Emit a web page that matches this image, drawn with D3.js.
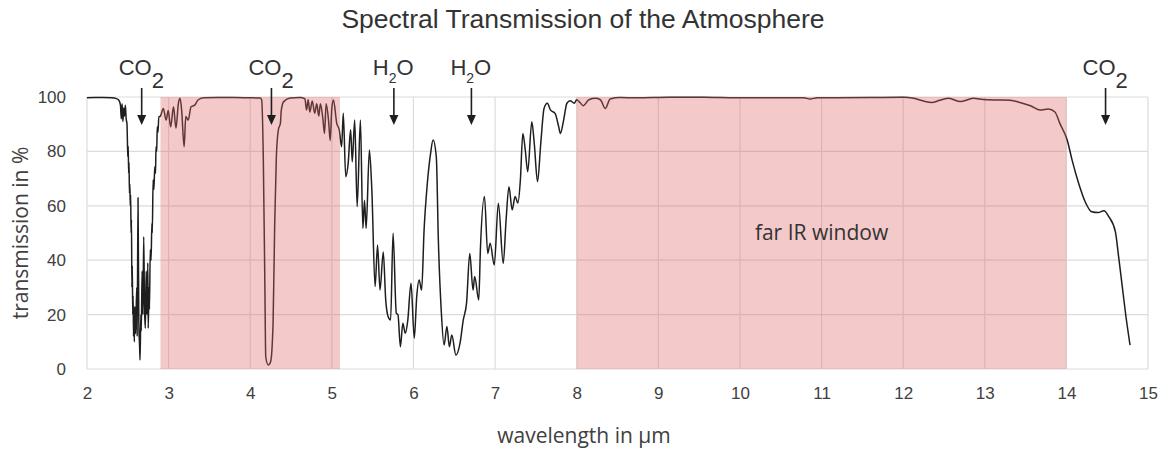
<!DOCTYPE html>
<html>
<head>
<meta charset="utf-8">
<script src="https://cdn.jsdelivr.net/npm/d3@7"></script>
<style>
  body { margin: 0; background: #fff; }
  svg text { fill: #404040; }
</style>
</head>
<body>
<div id="chart"></div>
<script>
// wavelength in µm and transmission in %
const wavelength = [
  2.00, 2.10, 2.20, 2.30, 2.36, 2.39, 2.41, 2.42, 2.43, 2.44, 2.45, 2.46, 2.47, 2.48,
  2.49, 2.495, 2.50, 2.505, 2.51, 2.515, 2.52, 2.525, 2.53, 2.535, 2.54, 2.545, 2.55, 2.555,
  2.56, 2.565, 2.57, 2.575, 2.58, 2.585, 2.595, 2.60, 2.61, 2.615, 2.625, 2.635, 2.645, 2.65,
  2.66, 2.665, 2.675, 2.685, 2.695, 2.705, 2.715, 2.725, 2.735, 2.745, 2.75, 2.76, 2.765, 2.775,
  2.785, 2.795, 2.80, 2.81, 2.82, 2.83, 2.84, 2.845, 2.855, 2.86, 2.87, 2.88,
  2.895, 2.935, 2.97, 2.995, 3.025, 3.06, 3.09, 3.12, 3.14, 3.16, 3.19, 3.21, 3.24, 3.275, 3.32,
  3.36, 3.43, 3.60, 3.80, 4.00, 4.12, 4.14, 4.16, 4.18, 4.19, 4.22, 4.25, 4.28, 4.30, 4.32,
  4.345, 4.37, 4.38, 4.41, 4.49, 4.61, 4.67, 4.69, 4.71, 4.73, 4.76, 4.79, 4.815, 4.84, 4.86,
  4.89, 4.91, 4.93, 4.96, 4.98, 5.00, 5.02, 5.06, 5.09, 5.12, 5.14, 5.17, 5.20, 5.23, 5.25,
  5.28, 5.31, 5.35, 5.38, 5.40, 5.42, 5.46, 5.49, 5.53, 5.56, 5.59, 5.63, 5.66, 5.69, 5.72,
  5.75, 5.79, 5.81, 5.84, 5.87, 5.90, 5.93, 5.97, 6.01, 6.04, 6.07, 6.10, 6.13, 6.17, 6.21,
  6.24, 6.28, 6.305, 6.34, 6.375, 6.41, 6.44, 6.47, 6.52, 6.57, 6.61, 6.65, 6.69, 6.73, 6.75,
  6.80, 6.82, 6.87, 6.91, 6.94, 6.99, 7.04, 7.10, 7.135, 7.17, 7.21, 7.245, 7.28, 7.31, 7.34,
  7.37, 7.40, 7.45, 7.48, 7.52, 7.56, 7.60, 7.64, 7.68, 7.735, 7.78, 7.80, 7.84, 7.88, 7.92,
  7.97, 8.00, 8.04, 8.08, 8.15, 8.23, 8.29, 8.35, 8.41, 8.53, 8.74, 9.14, 9.55, 9.96, 10.37,
  10.78, 10.86, 10.95, 11.6, 12.0, 12.13, 12.25, 12.35, 12.45, 12.56, 12.70, 12.86, 12.98, 13.15,
  13.31, 13.43, 13.56, 13.68, 13.78, 13.86, 13.92, 14.01, 14.07, 14.15, 14.23, 14.31, 14.39,
  14.46, 14.52, 14.60, 14.64, 14.68, 14.73, 14.78
];
const transmission = [
  99.7, 99.8, 99.8, 99.7, 99.4, 98.8, 97.0, 92.0, 97.5, 91.0, 96.0, 93.0, 97.0, 92.0,
  90.0, 84.0, 78.0, 82.0, 72.0, 76.0, 64.6, 68.0, 60.0, 64.0, 50.0, 55.0, 30.0, 38.0,
  20.0, 27.0, 12.0, 22.0, 10.0, 23.0, 13.0, 18.0, 30.0, 12.0, 63.0, 17.0, 8.0, 3.3,
  20.0, 14.0, 36.0, 20.0, 48.6, 22.0, 15.0, 36.0, 20.0, 39.0, 15.0, 30.0, 22.0, 43.8,
  40.0, 53.6, 50.0, 69.5, 66.0, 74.4, 72.0, 81.7, 80.0, 89.0, 87.0, 92.8,
  92.8, 95.8, 91.5, 95.0, 89.0, 96.4, 88.5, 97.7, 99.5, 95.0, 81.7, 92.8, 91.5, 96.4, 97.0,
  98.9, 99.7, 99.8, 99.8, 99.7, 99.6, 99.0, 78.0, 29.0, 4.5, 1.5, 2.7, 17.0, 53.6, 78.0,
  88.0, 90.4, 95.0, 98.3, 99.6, 99.8, 99.3, 95.2, 99.0, 94.5, 98.5, 94.0, 97.5, 93.0, 97.5,
  92.0, 86.6, 97.5, 91.2, 84.0, 96.0, 98.9, 90.3, 88.0, 81.7, 94.0, 70.7, 75.6, 88.0, 76.2,
  91.5, 59.7, 91.5, 51.7, 62.0, 51.7, 80.5, 65.8, 30.3, 45.6, 29.0, 43.0, 25.4, 19.2, 18.0,
  49.9, 20.5, 20.0, 8.2, 16.8, 13.1, 17.8, 31.5, 11.3, 26.6, 32.7, 29.0, 51.0, 68.3, 79.3,
  84.2, 78.0, 47.4, 21.7, 8.8, 15.6, 8.2, 12.5, 5.1, 9.4, 18.0, 24.1, 42.5, 29.0, 34.0,
  25.4, 43.8, 63.4, 42.5, 46.2, 38.2, 60.9, 38.8, 54.8, 67.0, 58.5, 63.4, 61.0, 69.5, 86.6,
  80.5, 72.5, 90.9, 83.0, 68.9, 83.0, 95.8, 97.7, 95.2, 94.0, 89.0, 86.6, 91.5, 97.7, 98.6,
  97.7, 99.0, 98.0, 96.8, 99.0, 99.5, 99.0, 95.8, 99.3, 99.8, 99.7, 99.9, 99.9, 99.7, 99.7,
  99.7, 99.3, 99.7, 99.8, 99.9, 99.5, 98.5, 98.0, 98.8, 99.5, 98.3, 99.5, 99.1, 98.9,
  98.8, 98.0, 96.8, 95.2, 95.6, 94.5, 90.3, 84.2, 76.8, 68.3, 61.5, 57.8, 57.5,
  58.2, 56.0, 50.5, 41.3, 31.5, 19.2, 8.8
];

// shaded atmospheric windows [from, to] in µm
const windowRanges = [[2.9, 5.1], [8, 14]];

// absorption annotations
const bandMolecules = ["CO2", "CO2", "H2O", "H2O", "CO2"];
const bandWavelengths = [2.67, 4.26, 5.76, 6.71, 14.48];

const xTicks = d3.range(2, 16, 1);
const yTicks = [0, 20, 40, 60, 80, 100];

const margin = {top: 97, right: 22, bottom: 85, left: 87},
      width = 1170 - margin.left - margin.right,
      height = 454 - margin.top - margin.bottom;

const svg = d3.select("#chart")
  .append("svg")
    .attr("width", 1170)
    .attr("height", 454)
    .style("font-family", "'Open Sans', sans-serif");

const g = svg.append("g")
    .attr("transform", "translate(" + margin.left + "," + margin.top + ")");

const x = d3.scaleLinear().domain([2, 15]).range([0, width]);
const y = d3.scaleLinear().domain([0, 100]).range([height, 0]);

// grid
g.append("g")
  .selectAll("line")
  .data(yTicks)
  .join("line")
    .attr("x1", 0).attr("x2", width)
    .attr("y1", d => y(d)).attr("y2", d => y(d))
    .attr("stroke", "#dcdcdc").attr("stroke-width", 1.2);

g.append("g")
  .selectAll("line")
  .data(xTicks)
  .join("line")
    .attr("x1", d => x(d)).attr("x2", d => x(d))
    .attr("y1", 0).attr("y2", height)
    .attr("stroke", "#dcdcdc").attr("stroke-width", 1.2);

// spectrum
const points = wavelength.map((w, i) => [w, transmission[i]]);
g.append("path")
  .datum(points)
  .attr("fill", "none")
  .attr("stroke", "#1e1e1e")
  .attr("stroke-width", 1.5)
  .attr("stroke-linejoin", "round")
  .attr("d", d3.line()
    .x(d => x(d[0]))
    .y(d => y(d[1]))
    .curve(d3.curveMonotoneX));

// windows, drawn over the line and grid like the reference
g.append("g")
  .selectAll("rect")
  .data(windowRanges)
  .join("rect")
    .attr("x", d => x(d[0]))
    .attr("y", y(100))
    .attr("width", d => x(d[1]) - x(d[0]))
    .attr("height", y(0) - y(100))
    .attr("fill", "rgb(220,100,100)")
    .attr("opacity", 0.35);

// axes (labels only)
const xAxis = g.append("g")
  .attr("transform", "translate(0," + height + ")")
  .call(d3.axisBottom(x).tickValues(xTicks).tickSize(0).tickPadding(18).tickFormat(d3.format("d")));
xAxis.select(".domain").remove();
xAxis.selectAll("text").style("font-size", "17px").attr("fill", "#404040");

const yAxis = g.append("g")
  .call(d3.axisLeft(y).tickValues(yTicks).tickSize(0).tickPadding(21));
yAxis.select(".domain").remove();
yAxis.selectAll("text").style("font-size", "17px").attr("fill", "#404040");

// titles
svg.append("text")
  .attr("x", 583).attr("y", 28)
  .attr("text-anchor", "middle")
  .style("font-family", "'Liberation Sans', Arial, sans-serif")
  .style("font-size", "26.5px")
  .style("fill", "#333")
  .text("Spectral Transmission of the Atmosphere");

svg.append("text")
  .attr("x", 584).attr("y", 443)
  .attr("text-anchor", "middle")
  .style("font-size", "21px")
  .text("wavelength in µm");

svg.append("text")
  .attr("transform", "translate(28,233) rotate(-90)")
  .attr("text-anchor", "middle")
  .style("font-size", "21px")
  .text("transmission in %");

g.append("text")
  .attr("x", x(11)).attr("y", y(47.5))
  .attr("text-anchor", "middle")
  .style("font-size", "21px")
  .style("fill", "#333")
  .text("far IR window");

// band labels with arrows
const bands = g.append("g")
  .selectAll("g")
  .data(bandMolecules.map((m, i) => ({m: m, w: bandWavelengths[i]})))
  .join("g")
    .attr("transform", d => "translate(" + x(d.w) + ",0)");

bands.append("line")
  .attr("x1", 0).attr("x2", 0)
  .attr("y1", -9).attr("y2", 20)
  .attr("stroke", "#1e1e1e")
  .attr("stroke-width", 1.6);

bands.append("path")
  .attr("d", "M-4.5,18 L4.5,18 L0,28 Z")
  .attr("fill", "#1e1e1e");

bands.each(function(d) {
  const t = d3.select(this).append("text")
    .attr("y", -22)
    .style("font-family", "'Liberation Sans', Arial, sans-serif")
    .style("font-size", "22px")
    .style("fill", "#333");
  if (d.m === "CO2") {
    t.attr("x", -23);
    t.append("tspan").text("CO");
    t.append("tspan").attr("dy", 13).text("2");
  } else {
    t.attr("x", -21);
    t.append("tspan").text("H");
    t.append("tspan").attr("dy", 8).style("font-size", "14px").text("2");
    t.append("tspan").attr("dy", -8).text("O");
  }
});
</script>
</body>
</html>
